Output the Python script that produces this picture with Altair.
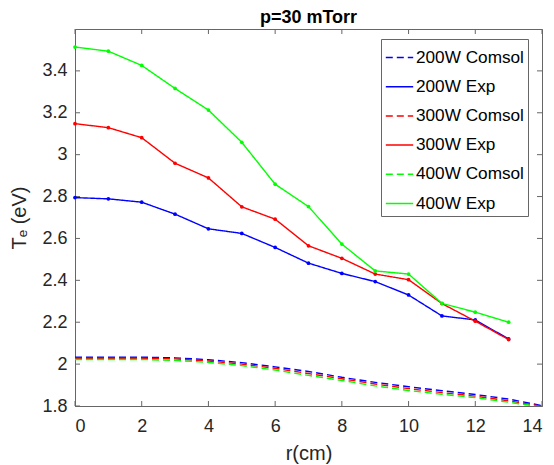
import altair as alt
import pandas as pd

r_exp = list(range(14))
exp_200 = [2.795, 2.789, 2.773, 2.716, 2.646, 2.624, 2.557, 2.482, 2.433, 2.394, 2.330, 2.230, 2.211, 2.120]
exp_300 = [3.148, 3.129, 3.081, 2.959, 2.889, 2.751, 2.692, 2.565, 2.505, 2.430, 2.403, 2.289, 2.205, 2.117]
exp_400 = [3.514, 3.494, 3.426, 3.316, 3.213, 3.059, 2.859, 2.752, 2.573, 2.445, 2.430, 2.290, 2.248, 2.200]

r_com = [0, 1, 2, 3, 4, 5, 6, 7, 8, 9, 10, 11, 12, 13, 14]
com_200 = [2.033, 2.033, 2.033, 2.030, 2.021, 2.007, 1.987, 1.965, 1.937, 1.913, 1.892, 1.873, 1.855, 1.833, 1.802]
com_300 = [2.028, 2.028, 2.028, 2.025, 2.015, 2.000, 1.980, 1.955, 1.930, 1.905, 1.883, 1.864, 1.847, 1.825, 1.798]
com_400 = [2.022, 2.022, 2.022, 2.018, 2.008, 1.993, 1.972, 1.946, 1.922, 1.896, 1.874, 1.856, 1.840, 1.818, 1.795]

series = ["200W Comsol", "200W Exp", "300W Comsol", "300W Exp", "400W Comsol", "400W Exp"]
colors = ["#0000FF", "#0000FF", "#FF0000", "#FF0000", "#00FF00", "#00FF00"]
dashes = [[7, 4], [1, 0], [7, 4], [1, 0], [7, 4], [1, 0]]

x_ticks = [0, 2, 4, 6, 8, 10, 12, 14]
y_ticks = [1.8, 2.0, 2.2, 2.4, 2.6, 2.8, 3.0, 3.2, 3.4]

rows = []
for name, rr, vals in [
    ("200W Comsol", r_com, com_200), ("200W Exp", r_exp, exp_200),
    ("300W Comsol", r_com, com_300), ("300W Exp", r_exp, exp_300),
    ("400W Comsol", r_com, com_400), ("400W Exp", r_exp, exp_400),
]:
    for a, b in zip(rr, vals):
        rows.append({"r": a, "Te": b, "series": name})
df = pd.DataFrame(rows)
df_exp = df[df["series"].str.contains("Exp")]

W, H = 467, 377
FONT = "Liberation Sans"
AX = "#666666"
TXT = "#262626"

xscale = alt.Scale(domain=[0, 14], nice=False, zero=False)
yscale = alt.Scale(domain=[1.8, 3.6], nice=False, zero=False)
cscale = alt.Scale(domain=series, range=colors)
dscale = alt.Scale(domain=series, range=dashes)

lines = alt.Chart(df).mark_line(strokeWidth=1.4, clip=True).encode(
    x=alt.X("r:Q", scale=xscale,
            axis=alt.Axis(title="r(cm)", values=x_ticks, grid=False, tickSize=0,
                          labelPadding=11, titleY=47, titleBaseline="middle", format="~g")),
    y=alt.Y("Te:Q", scale=yscale,
            axis=alt.Axis(title="Tₑ (eV)", values=y_ticks, grid=False, tickSize=0,
                          labelPadding=8, titleX=-56, titleY=H / 2, titleBaseline="middle",
                          titleAngle=270, titleAlign="center", format="~g")),
    color=alt.Color("series:N", scale=cscale,
                    legend=alt.Legend(title=None, orient="none", legendX=306, legendY=10,
                                      symbolType="stroke", symbolSize=750, symbolStrokeWidth=1.5,
                                      labelFontSize=17.2, labelFont=FONT, rowPadding=6.2,
                                      strokeColor=AX, fillColor="white", padding=4,
                                      labelOffset=2, labelColor="black")),
    strokeDash=alt.StrokeDash("series:N", scale=dscale, legend=alt.Legend(title=None)),
    detail="series:N",
    order="r:Q",
)

points = alt.Chart(df_exp).mark_point(filled=True, size=14, opacity=1).encode(
    x=alt.X("r:Q", scale=xscale),
    y=alt.Y("Te:Q", scale=yscale),
    color=alt.Color("series:N", scale=cscale, legend=None),
)

xt = pd.DataFrame({"t": x_ticks})
yt = pd.DataFrame({"t": y_ticks})
tick_bottom = alt.Chart(xt).mark_rule(color=AX, strokeWidth=1).encode(
    x=alt.X("t:Q", scale=xscale), y=alt.value(H - 5), y2=alt.value(H))
tick_top = alt.Chart(xt).mark_rule(color=AX, strokeWidth=1).encode(
    x=alt.X("t:Q", scale=xscale), y=alt.value(0), y2=alt.value(5))
tick_left = alt.Chart(yt).mark_rule(color=AX, strokeWidth=1).encode(
    y=alt.Y("t:Q", scale=yscale), x=alt.value(0), x2=alt.value(5))
tick_right = alt.Chart(yt).mark_rule(color=AX, strokeWidth=1).encode(
    y=alt.Y("t:Q", scale=yscale), x=alt.value(W - 5), x2=alt.value(W))

chart = alt.layer(tick_bottom, tick_top, tick_left, tick_right, lines, points).resolve_scale(
    color="shared", strokeDash="shared"
).properties(
    width=W, height=H,
    background="white",
    title=alt.Title("p=30 mTorr", fontSize=18, font=FONT, fontWeight="bold", anchor="middle",
                    offset=2, color="black"),
    autosize=alt.AutoSizeParams(type="none"),
    padding={"left": 67, "top": 21, "right": 4, "bottom": 66},
).configure_view(
    stroke=AX, strokeWidth=1
).configure_axis(
    domainColor=AX, labelColor=TXT, titleColor=TXT,
    labelFont=FONT, titleFont=FONT, labelFontSize=18, titleFontSize=20, titleFontWeight="normal"
)

chart.save("out.html", embed_options={"renderer": "svg", "actions": False})
